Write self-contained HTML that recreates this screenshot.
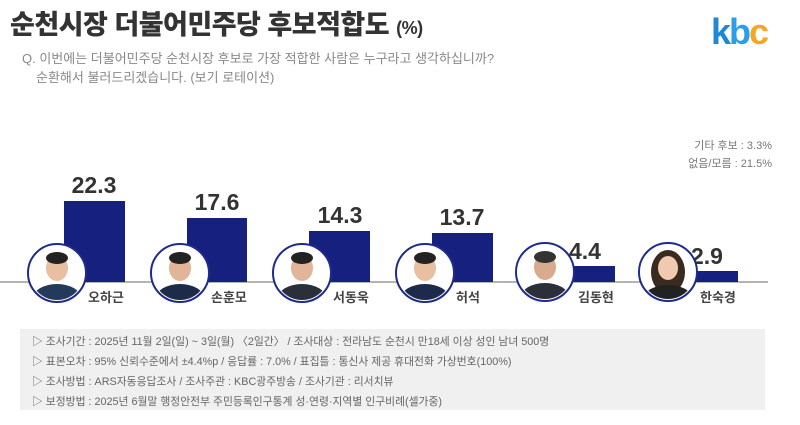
<!DOCTYPE html>
<html><head><meta charset="utf-8"><style>
body{margin:0;background:#fff;width:800px;height:420px;overflow:hidden;font-family:"Liberation Sans","Noto Sans CJK KR",sans-serif}
</style></head><body>
<svg width="800" height="420" xmlns="http://www.w3.org/2000/svg" font-family="Liberation Sans, Noto Sans CJK KR, sans-serif">
<rect width="800" height="420" fill="#fff"/>
<text x="10" y="34" font-size="27" font-weight="900" fill="#333" letter-spacing="-0.5">순천시장 더불어민주당 후보적합도 <tspan font-size="18">(%)</tspan></text>
<text x="711" y="44" font-size="36" font-weight="bold" fill="#1e88d8" letter-spacing="-2">k<tspan fill="#2a9ee6">b</tspan><tspan fill="#f5a623">c</tspan></text>
<text x="22" y="63" font-size="13" fill="#888">Q. 이번에는 더불어민주당 순천시장 후보로 가장 적합한 사람은 누구라고 생각하십니까?</text>
<text x="36" y="82" font-size="13" fill="#888">순환해서 불러드리겠습니다. (보기 로테이션)</text>
<text x="772" y="149" font-size="11" fill="#777" text-anchor="end">기타 후보 : 3.3%</text>
<text x="772" y="167" font-size="11" fill="#777" text-anchor="end">없음/모름 : 21.5%</text>
<line x1="0" y1="282" x2="768" y2="282" stroke="#888" stroke-width="1.2"/>
<g fill="#16217f">
<rect x="64" y="201" width="61" height="81"/>
<rect x="187" y="218" width="60" height="64"/>
<rect x="309" y="231" width="61" height="51"/>
<rect x="432" y="233" width="61" height="49"/>
<rect x="555" y="266" width="60" height="16"/>
<rect x="677" y="271" width="61" height="11"/>
</g>
<g font-size="23" font-weight="900" fill="#333" text-anchor="middle">
<text x="94" y="193">22.3</text><text x="217" y="210">17.6</text><text x="340" y="223">14.3</text>
<text x="462" y="225">13.7</text><text x="585" y="259">4.4</text><text x="707" y="264">2.9</text>
</g>
<g font-size="13" font-weight="bold" fill="#444">
<text x="88" y="302">오하근</text><text x="211" y="302">손훈모</text><text x="333" y="302">서동욱</text>
<text x="456" y="302">허석</text><text x="578" y="302">김동현</text><text x="700" y="302">한숙경</text>
</g>
<defs><clipPath id="c"><circle r="27"/></clipPath></defs>
<g transform="translate(57,273)"><circle r="29" fill="#fff" stroke="#1f2a8a" stroke-width="2"/><g clip-path="url(#c)"><ellipse cy="-5" rx="11" ry="13" fill="#e8bfa0"/><ellipse cy="-15" rx="11" ry="6" fill="#222"/><ellipse cy="25" rx="24" ry="14" fill="#233a5a"/></g></g>
<g transform="translate(180,273)"><circle r="29" fill="#fff" stroke="#1f2a8a" stroke-width="2"/><g clip-path="url(#c)"><ellipse cy="-5" rx="11" ry="13" fill="#e2b498"/><ellipse cy="-15" rx="11" ry="6" fill="#222"/><ellipse cy="25" rx="24" ry="14" fill="#1e2a4a"/></g></g>
<g transform="translate(302,273)"><circle r="29" fill="#fff" stroke="#1f2a8a" stroke-width="2"/><g clip-path="url(#c)"><ellipse cy="-5" rx="11" ry="13" fill="#e2b498"/><ellipse cy="-15" rx="11" ry="6" fill="#222"/><ellipse cy="25" rx="24" ry="14" fill="#2a2f3a"/></g></g>
<g transform="translate(425,273)"><circle r="29" fill="#fff" stroke="#1f2a8a" stroke-width="2"/><g clip-path="url(#c)"><ellipse cy="-5" rx="11" ry="13" fill="#e8bfa0"/><ellipse cy="-15" rx="11" ry="6" fill="#222"/><ellipse cy="25" rx="24" ry="14" fill="#1e2a4a"/></g></g>
<g transform="translate(545,272)"><circle r="29" fill="#fff" stroke="#1f2a8a" stroke-width="2"/><g clip-path="url(#c)"><ellipse cy="-5" rx="11" ry="13" fill="#d9aa8e"/><ellipse cy="-15" rx="11" ry="6" fill="#333"/><ellipse cy="25" rx="24" ry="14" fill="#2a2f3a"/></g></g>
<g transform="translate(668,272)"><circle r="29" fill="#fff" stroke="#1f2a8a" stroke-width="2"/><g clip-path="url(#c)"><ellipse cy="0" rx="17" ry="22" fill="#3a2a20"/><ellipse cy="-4" rx="10" ry="12" fill="#efc9b0"/><ellipse cy="26" rx="24" ry="13" fill="#222"/></g></g>
<rect x="20" y="329" width="745" height="81" fill="#f0f0f0"/>
<g font-size="10.8" fill="#666">
<text x="32" y="345">▷ 조사기간 : 2025년 11월 2일(일) ~ 3일(월) 〈2일간〉 / 조사대상 : 전라남도 순천시 만18세 이상 성인 남녀 500명</text>
<text x="32" y="365">▷ 표본오차 : 95% 신뢰수준에서 ±4.4%p / 응답률 : 7.0% / 표집틀 : 통신사 제공 휴대전화 가상번호(100%)</text>
<text x="32" y="385">▷ 조사방법 : ARS자동응답조사 / 조사주관 : KBC광주방송 / 조사기관 : 리서치뷰</text>
<text x="32" y="405">▷ 보정방법 : 2025년 6월말 행정안전부 주민등록인구통계 성·연령·지역별 인구비례(셀가중)</text>
</g>
</svg>
</body></html>
